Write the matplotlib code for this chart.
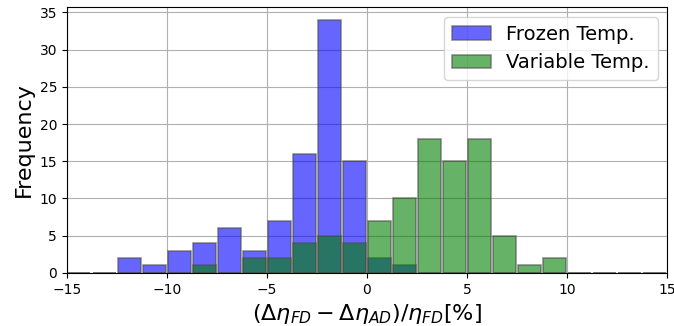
import matplotlib
matplotlib.use("Agg")
import matplotlib.pyplot as plt
import numpy as np

# histogram bins (width 1.25 from -15 to 15)
edges = np.linspace(-15, 15, 25)
centers = (edges[:-1] + edges[1:]) / 2

frozen_counts = [0, 0, 2, 1, 3, 4, 6, 3, 7, 16, 34, 15,
                 2, 1, 0, 0, 0, 0, 0, 0, 0, 0, 0, 0]
variable_counts = [0, 0, 0, 0, 0, 1, 0, 2, 2, 4, 5, 4,
                   7, 10, 18, 15, 18, 5, 1, 2, 0, 0, 0, 0]

fig = plt.figure(figsize=(6.74, 3.26), dpi=100)
ax = fig.add_axes([0.099, 0.163, 0.891, 0.815])

ax.hist(centers, bins=edges, weights=frozen_counts, rwidth=0.9,
        color='b', alpha=0.6, edgecolor='0.3', linewidth=1.2, label='Frozen Temp.')
ax.hist(centers, bins=edges, weights=variable_counts, rwidth=0.9,
        color='g', alpha=0.6, edgecolor='0.3', linewidth=1.2, label='Variable Temp.')

ax.set_xlim(-15, 15)
ax.grid(True)
ax.set_axisbelow(True)
ax.set_xlabel(r'$(\Delta\eta_{FD}-\Delta\eta_{AD})/\eta_{FD}[\%]$', fontsize=16)
ax.set_ylabel('Frequency', fontsize=16)
ax.tick_params(labelsize=10)
ax.legend(loc='upper right', fontsize=14)

fig.savefig('out.png', dpi=100)
